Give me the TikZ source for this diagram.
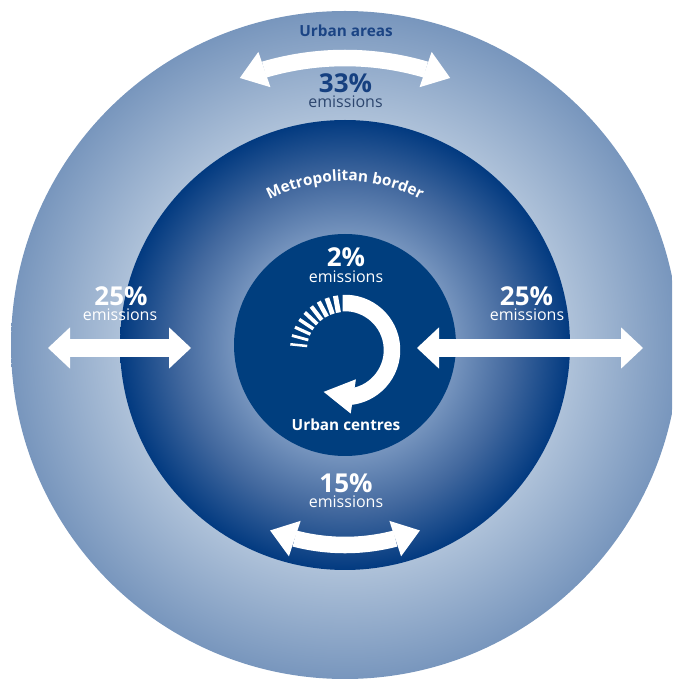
\documentclass[tikz,border=0pt]{standalone}
\usepackage{fontspec}
\setmainfont{Open Sans}
\usepackage{xcolor}
\usepackage{tikz}
\usetikzlibrary{arrows.meta,bending,decorations.text}

\definecolor{ringlight}{RGB}{176,195,218}
\definecolor{ringedge}{RGB}{120,150,189}
\definecolor{metrolight}{RGB}{120,150,191}
\definecolor{metromid}{RGB}{66,104,158}
\definecolor{metroedge}{RGB}{2,58,128}
\pgfdeclareradialshading{outerring}{\pgfpoint{0bp}{0bp}}{color(0bp)=(ringlight); color(16.5bp)=(ringlight); color(25bp)=(ringedge); color(50bp)=(ringedge)}
\pgfdeclareradialshading{metroring}{\pgfpoint{0bp}{0bp}}{color(0bp)=(metrolight); color(12bp)=(metrolight); color(18.5bp)=(metromid); color(25bp)=(metroedge); color(50bp)=(metroedge)}

\tikzset{
	hflow/.style={white, line width=13.5pt, {Triangle[width=31pt,length=16.5pt,line width=0pt]}-{Triangle[width=31pt,length=16.5pt,line width=0pt]}},
	aflow/.style={white, line width=12.4pt, {Triangle[width=28pt,length=19.5pt,line width=0pt]}-{Triangle[width=28pt,length=19.5pt,line width=0pt]}},
	pct/.style={anchor=base, inner sep=0, font=\fontsize{19.5}{22}\selectfont\bfseries},
	emis/.style={anchor=base, inner sep=0, font=\fontsize{12}{14}\selectfont},
	zone/.style={anchor=base, inner sep=0, font=\fontsize{11.5}{13}\selectfont\bfseries},
}

\begin{document}
\begin{tikzpicture}[x=0.75pt, y=0.75pt]
	\useasboundingbox (0, 0) rectangle (672, 682);
	\clip (0, 0) rectangle (672, 682);
	% Rings, arrows and labels:
	\coordinate (C) at (345, 337);
	\coordinate (A) at (345, 332);
	\shade[shading=outerring] (C) circle[radius=334];
	\shade[shading=metroring] (C) circle[radius=225];
	\fill[fill={rgb,255:red,0;green,62;blue,126}] (C) circle[radius=111];
	\coordinate (T1) at ([shift={(111.5:287)}]C);
	\coordinate (B1) at ([shift={(248:200)}]C);
	\coordinate (L1) at (48, 334);
	\coordinate (L2) at (191, 334);
	\coordinate (R1) at (417, 334);
	\coordinate (R2) at (643, 334);
	\coordinate (U1) at ([shift={(93:47)}]A);
	\draw[aflow] (T1) arc[start angle=111.5, end angle=68.5, radius=287];
	\draw[aflow] (B1) arc[start angle=248, end angle=292, radius=200];
	\draw[hflow] (L1) -- (L2);
	\draw[hflow] (R1) -- (R2);
	\draw[white, line width=12.4pt, -{Triangle[width=26pt,length=22.5pt,line width=0pt]}] (U1) arc[start angle=93, end angle=-117, radius=47];
	\foreach \i in {0,...,8}
		\draw[white, line width={3.8pt-0.24pt*\i}] ([shift={(100+9.25*\i:38)}]A) -- ([shift={(100+9.25*\i:55)}]A);
	\path[decorate, decoration={text along path, text align=center, text={|\fontsize{11.5}{13}\selectfont\bfseries\color{white}|Metropolitan border}}] ([shift={(125:164)}]C) arc[start angle=125, end angle=55, radius=164];
	\node[zone, text={rgb,255:red,27;green,68;blue,132}] (Lbl1) at (346, 645) {Urban areas};
	\node[pct, text={rgb,255:red,22;green,64;blue,128}] (Pct1) at (345.5, 589) {33\%};
	\node[emis, text={rgb,255:red,45;green,70;blue,110}] (Em1) at (345.5, 574) {emissions};
	\node[pct, white] (Pct2) at (346, 415) {2\%};
	\node[emis, white] (Em2) at (346, 399) {emissions};
	\node[zone, white] (Lbl2) at (346, 251) {Urban centres};
	\node[pct, white] (Pct3) at (121, 376) {25\%};
	\node[emis, white] (Em3) at (120, 361) {emissions};
	\node[pct, white] (Pct4) at (526.5, 376) {25\%};
	\node[emis, white] (Em4) at (527, 361) {emissions};
	\node[pct, white] (Pct5) at (346, 189) {15\%};
	\node[emis, white] (Em5) at (346, 174) {emissions};
\end{tikzpicture}
\end{document}
